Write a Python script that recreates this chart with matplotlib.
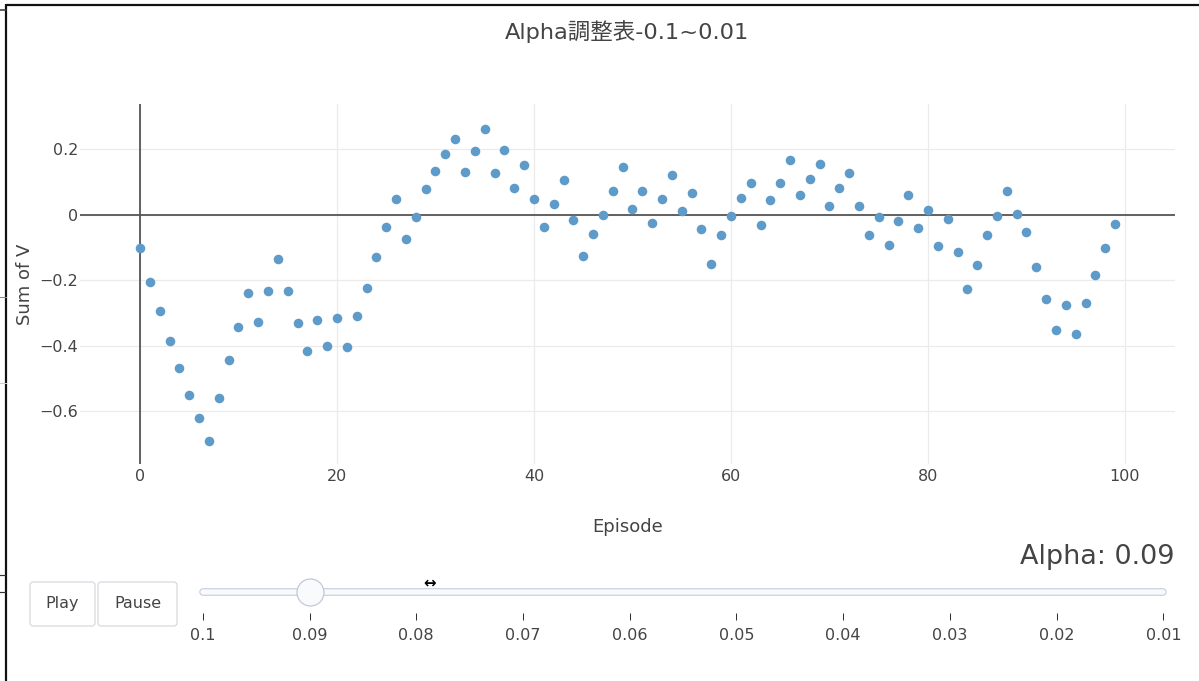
import matplotlib
matplotlib.use("Agg")
import matplotlib.pyplot as plt
from matplotlib.patches import FancyBboxPatch
import numpy as np

plt.rcParams['font.family'] = ['DejaVu Sans', 'Noto Sans CJK JP']

# ---------------- data ----------------
title = "Alpha調整表-0.1~0.01"
x_label = "Episode"
y_label = "Sum of V"
episodes = list(range(100))
sum_v = [-0.103, -0.204, -0.295, -0.384, -0.468, -0.550, -0.622, -0.691, -0.559, -0.445,
         -0.342, -0.239, -0.326, -0.234, -0.135, -0.234, -0.332, -0.415, -0.321, -0.402,
         -0.314, -0.404, -0.308, -0.225, -0.129, -0.037, 0.048, -0.073, -0.006, 0.077,
         0.134, 0.185, 0.231, 0.131, 0.193, 0.261, 0.126, 0.198, 0.082, 0.153,
         0.047, -0.038, 0.032, 0.107, -0.015, -0.126, -0.060, -0.002, 0.071, 0.145,
         0.016, 0.073, -0.026, 0.049, 0.121, 0.010, 0.065, -0.045, -0.151, -0.063,
         -0.004, 0.050, 0.098, -0.030, 0.046, 0.097, 0.167, 0.059, 0.109, 0.155,
         0.028, 0.081, 0.128, 0.027, -0.062, -0.006, -0.091, -0.020, 0.060, -0.041,
         0.014, -0.095, -0.012, -0.115, -0.227, -0.154, -0.063, -0.004, 0.072, 0.001,
         -0.052, -0.159, -0.258, -0.351, -0.277, -0.364, -0.269, -0.183, -0.102, -0.028]
x_ticks = [0, 20, 40, 60, 80, 100]
y_ticks = [-0.6, -0.4, -0.2, 0, 0.2]
y_tick_labels = ["\u22120.6", "\u22120.4", "\u22120.2", "0", "0.2"]
alpha_steps = [0.1, 0.09, 0.08, 0.07, 0.06, 0.05, 0.04, 0.03, 0.02, 0.01]
alpha_labels = ["0.1", "0.09", "0.08", "0.07", "0.06", "0.05", "0.04", "0.03", "0.02", "0.01"]
current_alpha = 0.09
current_label = "Alpha: 0.09"
buttons = ["Play", "Pause"]

# ---------------- figure ----------------
W, H = 1199, 681
fig = plt.figure(figsize=(W / 100, H / 100), dpi=100)
fig.patch.set_facecolor("white")
TXT = "#444444"
PX = 0.72  # points per pixel

ax = fig.add_axes([80 / W, 1 - 464 / H, 1095 / W, 360 / H])
ax.set_facecolor("white")
ax.set_xlim(-6.09, 105.08)
ax.set_ylim(-0.761, 0.338)
for s in ax.spines.values():
    s.set_visible(False)
ax.set_xticks(x_ticks)
ax.set_yticks(y_ticks)
ax.set_yticklabels(y_tick_labels)
ax.tick_params(length=0, labelsize=16 * PX, labelcolor=TXT)
ax.tick_params(axis="y", pad=2 * PX)
ax.tick_params(axis="x", pad=5 * PX)
ax.grid(True, color="#ebebeb", lw=1.2 * PX, zorder=0)
ax.set_axisbelow(True)
ax.axhline(0, color="#555555", lw=1.8 * PX, zorder=1)
ax.axvline(0, color="#555555", lw=1.8 * PX, zorder=1)
ax.scatter(episodes, sum_v, s=(9.6 * PX) ** 2, color="#5e9bc9", linewidths=0, zorder=3)

ax.set_xlabel(x_label, fontsize=18 * PX, color=TXT, va="center")
ax.xaxis.set_label_coords(0.5, (464 - 527) / 360)
ax.set_ylabel(y_label, fontsize=18 * PX, color=TXT, va="center", ha="center")
ax.yaxis.set_label_coords((25 - 80) / 1095, 0.5)

fig.text(627 / W, 1 - 32 / H, title, ha="center", va="center",
         fontsize=22.5 * PX, color=TXT)

# ---------------- slider ----------------
sax = fig.add_axes([199 / W, 1 - 650 / H, (1167 - 199) / W, 90 / H])
sax.set_xlim(0.10036, 0.00966)
sax.set_ylim(650, 560)
sax.axis("off")
sax.plot([alpha_steps[0], alpha_steps[-1]], [591.5, 591.5], color="#bec8d9",
         lw=7.5 * PX, solid_capstyle="round")
sax.plot([alpha_steps[0], alpha_steps[-1]], [591.5, 591.5], color="#f8fafc",
         lw=5.5 * PX, solid_capstyle="round")
sax.vlines(alpha_steps, 613, 620, color="#333333", lw=1.0 * PX)
for a, lab in zip(alpha_steps, alpha_labels):
    sax.text(a, 636, lab, ha="center", va="center", fontsize=16 * PX, color=TXT)
sax.plot([current_alpha], [591.5], "o", ms=27 * PX, mfc="#f8fafc", mec="#bec8d9",
         mew=1.2 * PX)

fig.text(1175 / W, 1 - 557 / H, current_label, ha="right", va="center",
         fontsize=27 * PX, color=TXT)

# ---------------- overlay (buttons, screenshot frame) ----------------
oax = fig.add_axes([0, 0, 1, 1], facecolor="none")
oax.set_xlim(0, W)
oax.set_ylim(H, 0)
oax.axis("off")
btn_boxes = [(30, 95), (98, 177)]
for (x0, x1), lab in zip(btn_boxes, buttons):
    oax.add_patch(FancyBboxPatch((x0, 582), x1 - x0, 44,
                                 boxstyle="round,pad=0,rounding_size=3",
                                 fc="white", ec="#d4d8de", lw=1.2 * PX))
    oax.text((x0 + x1) / 2, 603.5, lab, ha="center", va="center",
             fontsize=16 * PX, color=TXT)

# cursor glyph
oax.text(430, 583, "\u2194", ha="center", va="center", fontsize=15 * PX,
         color="black", fontweight="bold")

# screenshot frame lines
oax.plot([6, W], [5, 5], color="#111111", lw=2.2 * PX, solid_capstyle="butt")
oax.plot([6, 6], [4, H], color="#111111", lw=2.2 * PX, solid_capstyle="butt")
oax.plot([0, 6], [10, 10], color="#333333", lw=1.5 * PX)
oax.plot([0, 6], [297, 297], color="#888888", lw=1.0 * PX)
oax.plot([0, 6], [383, 383], color="#cccccc", lw=1.0 * PX)
oax.plot([0, 5], [575, 575], color="#333333", lw=1.2 * PX)
oax.plot([0, 5], [592, 592], color="#333333", lw=1.2 * PX)

fig.savefig("out.png", dpi=100)
